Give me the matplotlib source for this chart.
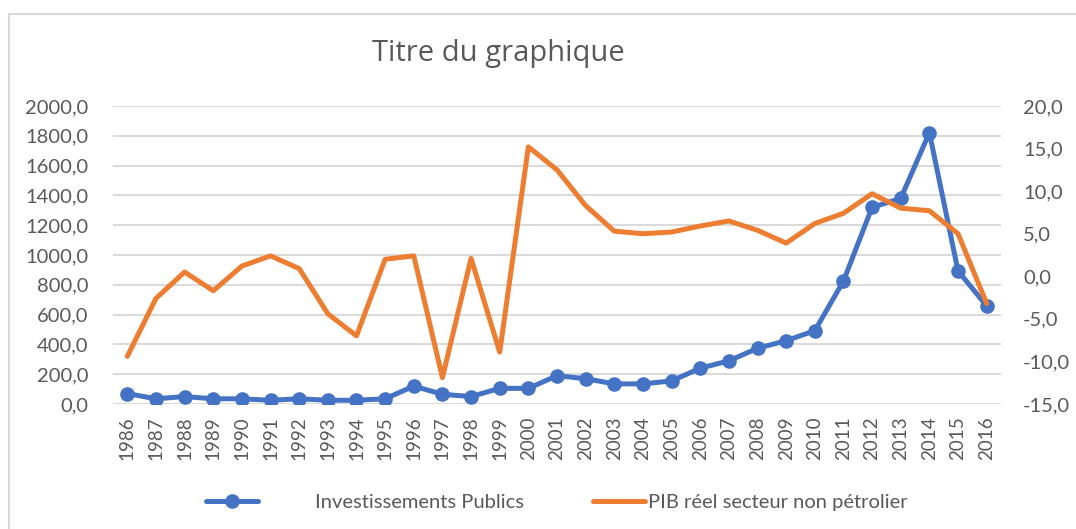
import matplotlib
matplotlib.use("Agg")
import matplotlib.pyplot as plt
from matplotlib.lines import Line2D
from matplotlib.patches import Rectangle

years = list(range(1986, 2017))
investissements = [70, 35, 50, 35, 35, 25, 35, 25, 25, 35, 120, 65, 50, 105, 105,
                   190, 170, 135, 135, 155, 240, 290, 374, 425, 492, 825, 1320,
                   1380, 1821, 893, 658]
pib_non_petrolier = [-9.4, -2.6, 0.5, -1.7, 1.2, 2.4, 0.9, -4.4, -7.0, 2.0, 2.4,
                     -11.9, 2.1, -8.9, 15.2, 12.5, 8.3, 5.3, 5.0, 5.2, 5.9, 6.5,
                     5.4, 3.9, 6.2, 7.4, 9.7, 8.0, 7.7, 5.0, -3.2]
left_ticks = list(range(0, 2001, 200))
right_ticks = list(range(-15, 21, 5))

blue = "#4472C4"
orange = "#ED7D31"
txt = "#595959"
plt.rcParams['font.family'] = ['Lato', 'DejaVu Sans']

W, H = 1076, 529
fig = plt.figure(figsize=(W / 100, H / 100), dpi=100)
# chart area border (right and bottom edges fall outside the picture)
fig.patches.append(Rectangle((9 / W, -10 / H), 1100 / W, (529 - 14 + 10) / H,
                             transform=fig.transFigure, fill=False,
                             edgecolor="#d9d9d9", linewidth=1.5))

ax = fig.add_axes([113 / W, 1 - 404 / H, 888 / W, 298 / H])
x = list(range(len(years)))
ax.plot(x, investissements, color=blue, lw=3.6, marker="o", ms=9.5, zorder=3,
        solid_capstyle="round")
ax.set_xlim(-0.5, len(years) - 0.5)
ax.set_ylim(0, 2000)
ax.set_yticks(left_ticks)
ax.set_yticklabels([f"{v:.1f}".replace(".", ",") for v in left_ticks])
ax.set_xticks(x)
ax.set_xticklabels([str(y) for y in years], rotation=90)
ax.grid(axis="y", color="#d9d9d9", lw=1.4)
ax.set_axisbelow(True)
for s in ax.spines.values():
    s.set_visible(False)
ax.tick_params(axis="y", length=0, pad=18, labelsize=14.5, labelcolor=txt)
ax.tick_params(axis="x", length=0, pad=9, labelsize=13.5, labelcolor=txt)

ax2 = ax.twinx()
ax2.plot(x, pib_non_petrolier, color=orange, lw=3.6, solid_capstyle="round")
ax2.set_ylim(-15, 20)
ax2.set_yticks(right_ticks)
ax2.set_yticklabels([f"{v:.1f}".replace(".", ",") for v in right_ticks])
for s in ax2.spines.values():
    s.set_visible(False)
ax2.tick_params(axis="y", length=0, pad=16, labelsize=14.5, labelcolor=txt)

fig.text(498 / W, 1 - 54 / H, "Titre du graphique", ha="center", va="center",
         fontsize=21, color=txt, family="Open Sans")

h1 = Line2D([], [], color=blue, lw=3.6, marker="o", ms=9.5, solid_capstyle="round")
h2 = Line2D([], [], color=orange, lw=3.6, solid_capstyle="round")
fig.legend([h1], ["Investissements Publics"], loc="center left",
           bbox_to_anchor=(188 / W, 1 - 502 / H), frameon=False,
           handlelength=2.6, handletextpad=2.8, fontsize=14.5, labelcolor=txt)
fig.legend([h2], ["PIB réel secteur non pétrolier"], loc="center left",
           bbox_to_anchor=(575 / W, 1 - 502 / H), frameon=False,
           handlelength=2.6, handletextpad=0.1, fontsize=14.5, labelcolor=txt)

fig.savefig("out.png", dpi=100)
